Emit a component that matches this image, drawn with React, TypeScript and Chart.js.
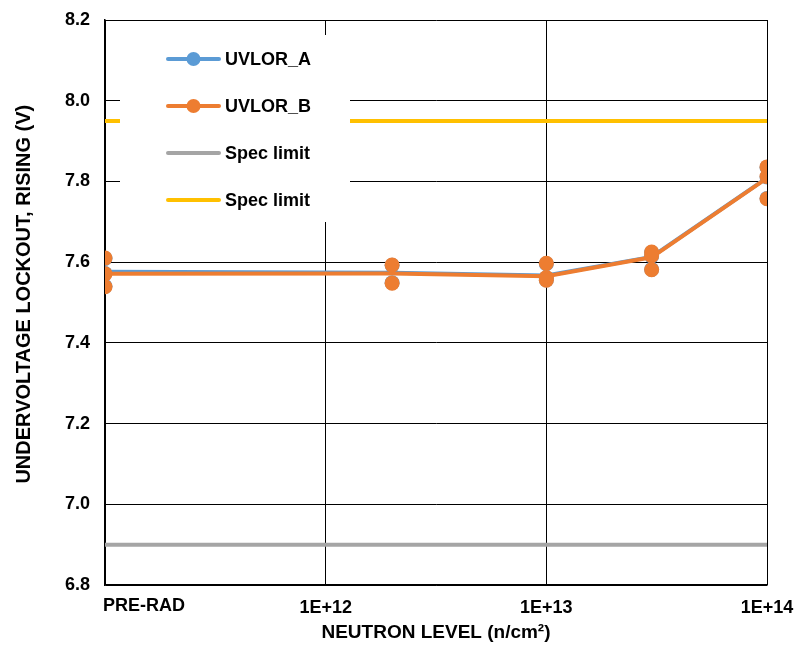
import React, { useEffect, useRef } from 'react';
import { Chart, registerables } from 'chart.js';

Chart.register(...registerables);

// ---- data ----
const xTickValues = [1e11, 1e12, 1e13, 1e14];
const xTickLabels = ['PRE-RAD', '1E+12', '1E+13', '1E+14'];
const yTickValues = [6.8, 7.0, 7.2, 7.4, 7.6, 7.8, 8.0, 8.2];

// average lines (per neutron level)
const levels = [1e11, 2e12, 1e13, 3e13, 1e14];
const uvlorAAvg = [7.576, 7.574, 7.567, 7.613, 7.809];
const uvlorBAvg = [7.571, 7.572, 7.565, 7.612, 7.808];

// individual units
const unitLevels = [1e11, 1e11, 1e11, 2e12, 2e12, 1e13, 1e13, 1e13, 3e13, 3e13, 3e13, 1e14, 1e14, 1e14];
const uvlorAUnits = [7.609, 7.572, 7.54, 7.592, 7.549, 7.596, 7.561, 7.556, 7.624, 7.615, 7.582, 7.835, 7.811, 7.758];
const uvlorBUnits = [7.61, 7.571, 7.539, 7.593, 7.548, 7.597, 7.562, 7.555, 7.625, 7.616, 7.581, 7.836, 7.812, 7.757];

const specLow = 6.9;
const specHigh = 7.95;

const seriesNames = ['UVLOR_A', 'UVLOR_B', 'Spec limit', 'Spec limit'];
const seriesColors = ['#5B9BD5', '#ED7D31', '#A5A5A5', '#FFC000'];
const seriesMarkers = [true, true, false, false];

const FONT = "'Liberation Sans', Arial, sans-serif";

const legendPlugin = {
  id: 'boxLegend',
  afterDatasetsDraw(chart: any) {
    const { ctx, chartArea } = chart;
    const x0 = chartArea.left + 15;
    const y0 = chartArea.top + 15;
    ctx.save();
    ctx.fillStyle = '#ffffff';
    ctx.fillRect(x0, y0, 230, 187);
    seriesNames.forEach((name, i) => {
      const cy = chartArea.top + 39 + i * 47;
      ctx.strokeStyle = seriesColors[i];
      ctx.lineWidth = 4;
      ctx.lineCap = 'round';
      ctx.beginPath();
      ctx.moveTo(chartArea.left + 63, cy);
      ctx.lineTo(chartArea.left + 114, cy);
      ctx.stroke();
      if (seriesMarkers[i]) {
        ctx.fillStyle = seriesColors[i];
        ctx.beginPath();
        ctx.arc(chartArea.left + 88.5, cy, 7, 0, Math.PI * 2);
        ctx.fill();
      }
      ctx.fillStyle = '#000';
      ctx.font = `bold 18px ${FONT}`;
      ctx.textAlign = 'left';
      ctx.textBaseline = 'middle';
      ctx.fillText(name, chartArea.left + 120, cy + 1);
    });
    ctx.restore();
  },
};

const preRadLabelPlugin = {
  id: 'preRadLabel',
  afterDraw(chart: any) {
    const { ctx } = chart;
    const xs = chart.scales.x;
    const px = xs.getPixelForValue(xTickValues[0]);
    ctx.save();
    ctx.fillStyle = '#000';
    ctx.font = `bold 18px ${FONT}`;
    ctx.textAlign = 'left';
    ctx.textBaseline = 'top';
    ctx.fillText(xTickLabels[0], px - 2, xs.top + 12);
    ctx.restore();
  },
};

export default function App() {
  const ref = useRef<HTMLCanvasElement | null>(null);

  useEffect(() => {
    document.body.style.margin = '0';
    const canvas = ref.current;
    if (!canvas) return;

    const lineData = (vals: number[]) => levels.map((x, i) => ({ x, y: vals[i] }));
    const unitData = (vals: number[]) => unitLevels.map((x, i) => ({ x, y: vals[i] }));
    const specData = (v: number) => [
      { x: xTickValues[0], y: v },
      { x: xTickValues[xTickValues.length - 1], y: v },
    ];

    const chart = new Chart(canvas, {
      type: 'line',
      data: {
        datasets: [
          {
            label: seriesNames[3],
            data: specData(specHigh),
            borderColor: seriesColors[3],
            borderWidth: 4,
            pointRadius: 0,
            order: 5,
          },
          {
            label: seriesNames[2],
            data: specData(specLow),
            borderColor: seriesColors[2],
            borderWidth: 4,
            pointRadius: 0,
            order: 5,
          },
          {
            label: seriesNames[0],
            data: lineData(uvlorAAvg),
            borderColor: seriesColors[0],
            borderWidth: 4,
            pointRadius: 0,
            order: 4,
          },
          {
            label: seriesNames[0] + ' units',
            data: unitData(uvlorAUnits),
            showLine: false,
            backgroundColor: seriesColors[0],
            borderColor: seriesColors[0],
            borderWidth: 0,
            pointRadius: 7.5,
            order: 3,
          },
          {
            label: seriesNames[1],
            data: lineData(uvlorBAvg),
            borderColor: seriesColors[1],
            borderWidth: 4,
            pointRadius: 0,
            order: 2,
          },
          {
            label: seriesNames[1] + ' units',
            data: unitData(uvlorBUnits),
            showLine: false,
            backgroundColor: seriesColors[1],
            borderColor: seriesColors[1],
            borderWidth: 0,
            pointRadius: 7.5,
            order: 1,
          },
        ],
      },
      options: {
        responsive: true,
        maintainAspectRatio: false,
        animation: false,
        layout: { padding: { left: 0, top: 20, right: 28, bottom: 0 } },
        plugins: {
          legend: { display: false },
          tooltip: { enabled: false },
        },
        elements: { line: { tension: 0, borderCapStyle: 'round', borderJoinStyle: 'round' } },
        scales: {
          x: {
            type: 'logarithmic',
            min: xTickValues[0],
            max: xTickValues[xTickValues.length - 1],
            afterBuildTicks: (s: any) => {
              s.ticks = xTickValues.map((v) => ({ value: v }));
            },
            afterFit: (s: any) => {
              s.height = 60;
              s.paddingLeft = 0;
              s.paddingRight = 0;
            },
            ticks: {
              autoSkip: false,
              maxRotation: 0,
              padding: 12,
              color: '#000',
              font: { family: FONT, size: 18, weight: 'bold' },
              callback: (v: any) => {
                const i = xTickValues.indexOf(Number(v));
                return i <= 0 ? '' : xTickLabels[i];
              },
            },
            grid: { color: '#000', lineWidth: 1, drawTicks: false },
            border: { color: '#000', width: 1.5 },
            title: {
              display: true,
              text: 'NEUTRON LEVEL (n/cm²)',
              color: '#000',
              font: { family: FONT, size: 19, weight: 'bold' },
              padding: { top: 0, bottom: 1 },
            },
          },
          y: {
            type: 'linear',
            min: yTickValues[0],
            max: yTickValues[yTickValues.length - 1],
            afterBuildTicks: (s: any) => {
              s.ticks = yTickValues.map((v) => ({ value: v }));
            },
            afterFit: (s: any) => {
              s.width = 105;
              s.paddingTop = 0;
              s.paddingBottom = 0;
            },
            ticks: {
              padding: 15,
              color: '#000',
              font: { family: FONT, size: 18, weight: 'bold' },
              callback: (v: any) => Number(v).toFixed(1),
            },
            grid: { color: '#000', lineWidth: 1, drawTicks: false },
            border: { color: '#000', width: 1.5 },
            title: {
              display: true,
              text: '   UNDERVOLTAGE LOCKOUT, RISING (V)',
              color: '#000',
              font: { family: FONT, size: 20, weight: 'bold' },
              padding: { top: 12, bottom: 0 },
            },
          },
        },
      },
      plugins: [legendPlugin, preRadLabelPlugin],
    } as any);

    return () => chart.destroy();
  }, []);

  return (
    <div style={{ width: 795, height: 645, position: 'relative' }}>
      <canvas ref={ref} />
    </div>
  );
}
